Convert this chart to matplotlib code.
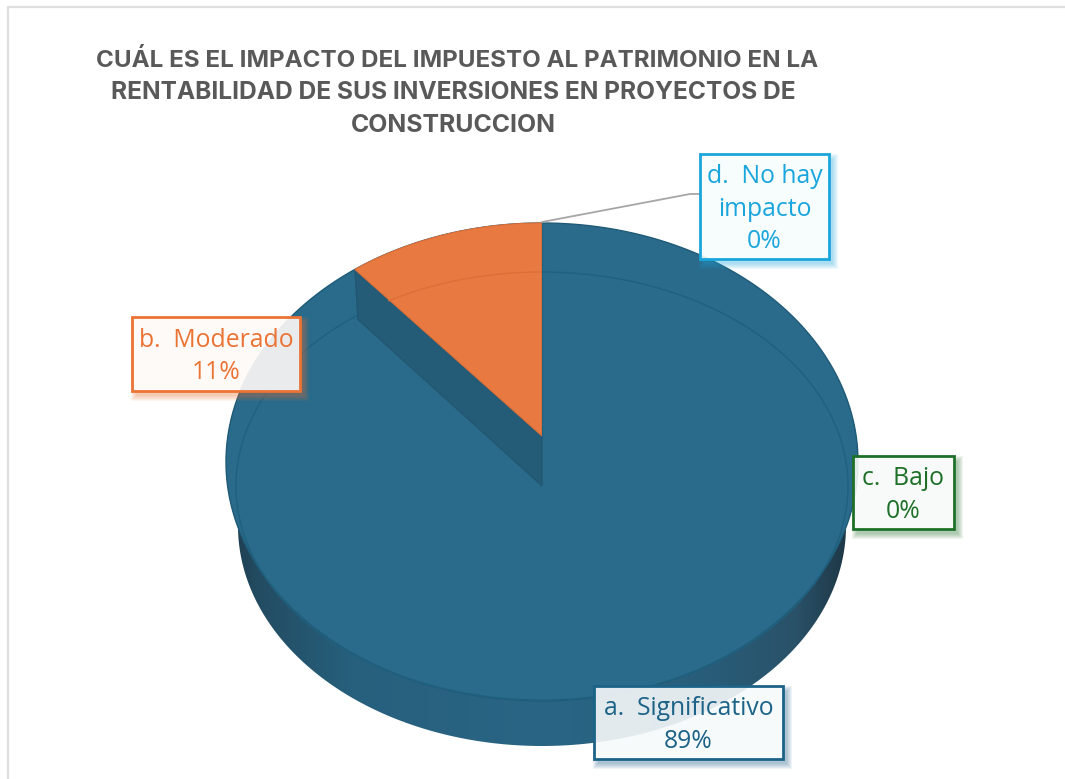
import numpy as np
import matplotlib
matplotlib.use("Agg")
import matplotlib.pyplot as plt
from matplotlib.patches import Polygon, Rectangle, PathPatch
from matplotlib.path import Path
from matplotlib.colors import LinearSegmentedColormap

# -----------------------------
# Data
# -----------------------------
categories = ["a.  Significativo", "b.  Moderado", "c.  Bajo", "d.  No hay\nimpacto"]
percents = [89, 11, 0, 0]
title_lines = [
    "CUÁL ES EL IMPACTO DEL IMPUESTO AL PATRIMONIO EN LA",
    "RENTABILIDAD DE SUS INVERSIONES EN PROYECTOS DE",
    "CONSTRUCCION",
]

# -----------------------------
# Styles and layout (pixels)
# -----------------------------
BLUE = "#2a6a8a"
BLUE_LINE = "#20607f"
WALL = "#245b76"
ORANGE = "#e87a41"
ORANGE_LINE = "#dc6f38"
TITLE_GREY = "#595959"
LABEL_FONT = "Open Sans"

CX = 542
TOP = (462, 316, 239)     # center y, rx, ry of the top face
INNER = (486, 306, 214)   # thin inner rim
SIDE = (526, 304, 220)    # lower edge of the side wall
APEX_Y = 436
DEPTH = 50
PERSPECTIVE = 0.917       # squeezes far slices like the 3D view does

# box: x0, x1, y0, y1, border color, text color
boxes = [
    (594, 783, 686, 759, "#1c6387", "#1c6387"),
    (132, 300, 317, 391, "#eb7434", "#eb7434"),
    (853, 954, 456, 529, "#1e7029", "#1e7029"),
    (700, 829, 154, 259, "#1aa6dc", "#1aa6dc"),
]
title_pos = [(457, 60, 17.4), (453.5, 92, 17.65), (453.5, 125, 17.9)]


def ellipse_xy(shape, t):
    # t is measured clockwise from the top, in radians
    cy, rx, ry = shape
    return CX + rx * np.sin(t), cy - ry * np.cos(t)


def arc_points(shape, t0, t1, n=200):
    t = np.linspace(t0, t1, n)
    x, y = ellipse_xy(shape, t)
    return np.column_stack([x, y])


def draw_shadow(ax, x0, x1, y0, y1, color):
    # soft shadow, kept out of the box itself so the box stays see-through
    outer = Path([(0, 0), (1065, 0), (1065, 779), (0, 779), (0, 0)], closed=True)
    inner = Path([(x0, y0), (x0, y1), (x1, y1), (x1, y0), (x0, y0)], closed=True)
    clip = Path.make_compound_path(outer, inner)
    for grow in range(5, -1, -1):
        r = Rectangle((x0 + 4 - grow, y0 + 5 - grow), x1 - x0 + 2 * grow, y1 - y0 + 2 * grow,
                      facecolor=color, edgecolor="none", alpha=0.07, zorder=6)
        ax.add_patch(r)
        r.set_clip_path(clip, ax.transData)


# -----------------------------
# Figure
# -----------------------------
fig = plt.figure(figsize=(10.65, 7.79), dpi=100, facecolor="white")
ax = fig.add_axes([0, 0, 1, 1])
ax.set_xlim(0, 1065)
ax.set_ylim(779, 0)
ax.axis("off")

# chart frame, only top and left are visible in the crop
ax.plot([1065, 8, 8], [7, 7, 779], color="#dedede", lw=1.6, zorder=1)

# side wall with its horizontal shading, runs up behind the top face
lower = arc_points(SIDE, np.pi * 0.4, np.pi * 1.6)
upper = arc_points(TOP, np.pi * 1.6, np.pi * 0.4)
wall_path = Path(np.vstack([lower, upper, lower[:1]]), closed=True)
wall_cmap = LinearSegmentedColormap.from_list(
    "wall", [(0, "#1d3a4b"), (0.05, "#234c62"), (0.2, "#27607d"), (0.5, "#2a6585"),
             (0.72, "#28607e"), (0.9, "#2a5269"), (1, "#1c3340")])
im = ax.imshow(np.linspace(0, 1, 256)[None, :], extent=[226, 858, 779, 0], cmap=wall_cmap,
               aspect="auto", zorder=2)
wall_clip = PathPatch(wall_path, transform=ax.transData, facecolor="none", edgecolor="none")
ax.add_patch(wall_clip)
im.set_clip_path(wall_clip)
ax.set_xlim(0, 1065)
ax.set_ylim(779, 0)

# top face
top_pts = arc_points(TOP, 0, 2 * np.pi, 400)
ax.add_patch(Polygon(top_pts, closed=True, facecolor=BLUE, edgecolor="#1f5b78", lw=1.0, zorder=3))

# moderate slice sits on top of the rim, measured back from 12 o'clock
total = sum(percents)
span = 2 * np.pi * percents[1] / total * PERSPECTIVE
start = 2 * np.pi - span

# thin inner rim
ax.add_patch(Polygon(arc_points(INNER, 0, 2 * np.pi, 400), closed=True, facecolor="none",
                     edgecolor=BLUE_LINE, lw=1.0, zorder=4))

# dark cut wall between the slice and the blue face
edge_x, edge_y = ellipse_xy(TOP, start)
wall_pts = [(edge_x, edge_y), (CX, APEX_Y), (CX, APEX_Y + DEPTH), (edge_x + 3, edge_y + DEPTH)]
ax.add_patch(Polygon(wall_pts, closed=True, facecolor=WALL, edgecolor="#225670", lw=0.8, zorder=5))

# orange slice
slice_pts = np.vstack([[(CX, APEX_Y)], arc_points(TOP, start, 2 * np.pi)])
ax.add_patch(Polygon(slice_pts, closed=True, facecolor=ORANGE, edgecolor=ORANGE_LINE, lw=0.8, zorder=5))
t_rim = np.linspace(start + 0.11, 2 * np.pi, 100)
rim_x, rim_y = ellipse_xy(INNER, t_rim)
ax.plot(rim_x, rim_y, color=ORANGE_LINE, lw=1.0, zorder=5.5)
ax.plot([CX, CX], [TOP[0] - TOP[2], APEX_Y], color="#20607f", lw=0.8, zorder=5.5)

# leader line of the d label
ax.plot([CX, 690, 700], [222, 194, 194], color="#a6a6a6", lw=1.3, zorder=5.5)

# data labels
for cat, pct, (x0, x1, y0, y1, edge, txt) in zip(categories, percents, boxes):
    draw_shadow(ax, x0, x1, y0, y1, edge)
    ax.add_patch(Rectangle((x0, y0), x1 - x0, y1 - y0, facecolor="white", alpha=0.9,
                           edgecolor="none", zorder=7))
    ax.add_patch(Rectangle((x0, y0), x1 - x0, y1 - y0, facecolor=edge, alpha=0.03,
                           edgecolor="none", zorder=7))
    ax.add_patch(Rectangle((x0, y0), x1 - x0, y1 - y0, facecolor="none", edgecolor=edge,
                           lw=2.0, zorder=8))
    ax.text((x0 + x1) / 2, (y0 + y1) / 2 + 2.5, f"{cat}\n{pct}%", color=txt, fontsize=17.8,
            family=LABEL_FONT, ha="center", va="center", linespacing=1.39, zorder=9)

# title
for line, (x, y, size) in zip(title_lines, title_pos):
    ax.text(x, y, line, color=TITLE_GREY, fontsize=size, fontweight="bold", family="Inter",
            ha="center", va="center", zorder=9)

fig.savefig("out.png", dpi=100, facecolor="white")
